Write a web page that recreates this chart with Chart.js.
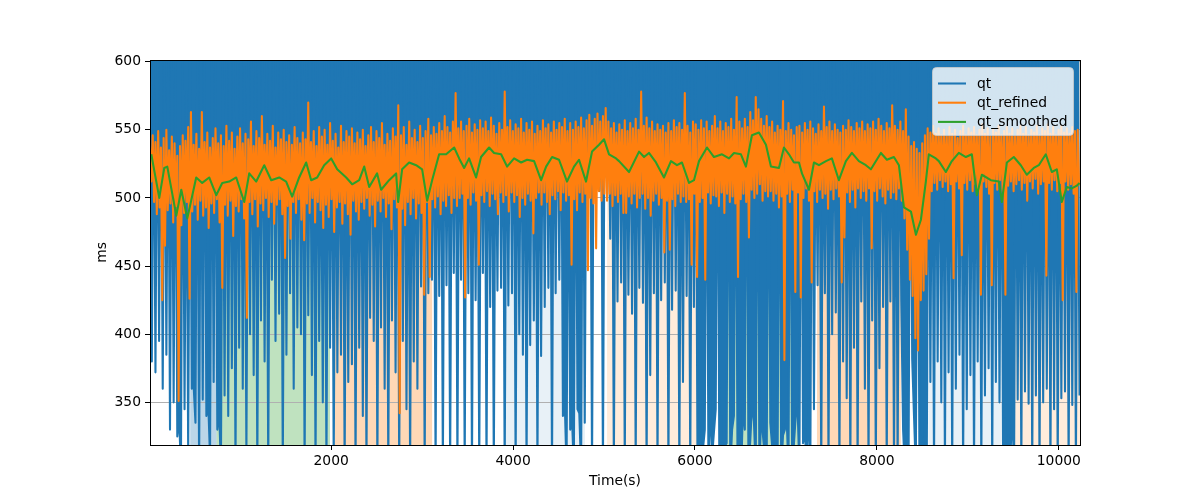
<!DOCTYPE html>
<html><head><meta charset="utf-8">
<script src="https://cdn.jsdelivr.net/npm/chart.js@4/dist/chart.umd.min.js"></script>
<style>html,body{margin:0;padding:0;background:#fff;}#wrap{width:1200px;height:500px;}</style>
</head><body><div id="wrap"><canvas id="c" width="1200" height="500"></canvas></div>
<script>
// ---- data ----
const xTickValues = [2000, 4000, 6000, 8000, 10000];
const yTickValues = [350, 400, 450, 500, 550, 600];
const timeStart = 8;
const qtInterval = 20;
const refinedInterval = 15;

const qt = [
612,380, 606,372, 615,395, 609,360, 618,385, 604,330, 611,350, 607,325, 340,300, 608,345,
578,310, 616,360, 362,335, 613,300, 610,352, 617,340, 350,310, 612,365, 609,330, 345,300,
604,355, 611,340, 618,375, 607,300, 613,390, 608,360, 596,310, 614,400, 605,370, 610,300,
616,410, 609,380, 604,300, 612,440, 607,395, 615,415, 610,300, 606,385, 617,430, 608,360,
613,405, 605,400, 611,300, 618,414, 607,370, 609,300, 614,395, 571,350, 606,300, 612,390,
610,300, 615,372, 604,385, 608,300, 588,365, 617,378, 611,300, 606,390, 587,340, 613,300,
609,412, 605,395, 614,300, 610,405, 616,360, 607,300, 612,410, 604,372, 618,300, 608,395,
613,345, 606,300, 611,380, 615,360, 609,435, 605,300, 617,430, 581,440, 610,300, 612,428,
607,300, 614,436, 604,300, 611,445, 616,300, 608,440, 613,300, 606,430, 618,300, 610,425,
605,300, 612,445, 609,300, 615,420, 607,300, 594,432, 611,434, 604,300, 614,421, 608,430,
617,300, 610,400, 606,385, 613,300, 592,392, 609,410, 590,300, 615,384, 605,420, 612,434,
608,300, 616,430, 607,440, 611,340, 350,300, 591,330, 338,300, 609,345, 342,300, 613,335,
610,512, 617,300, 605,518, 612,505, 608,300, 615,515, 582,470, 607,300, 611,424, 604,438,
614,300, 609,429, 588,415, 616,300, 606,434, 612,423, 608,300, 613,370, 605,430, 610,300,
618,425, 607,438, 611,300, 604,418, 615,432, 609,300, 590,365, 612,428, 606,300, 614,420,
608,300, 335,300, 316,330, 605,300, 352,310, 328,345, 611,300, 340,300, 318,320, 615,300,
330,340, 590,300, 325,300, 348,330, 617,300, 322,350, 336,300, 614,300, 342,325, 310,300,
592,335, 318,300, 344,300, 609,300, 326,330, 338,300, 612,300, 320,340, 346,300, 610,320,
330,300, 352,300, 618,345, 583,436, 607,300, 578,430, 613,300, 609,400, 605,416, 592,300,
614,380, 610,353, 606,300, 612,390, 617,300, 608,424, 611,360, 604,300, 615,410, 609,300,
577,375, 613,420, 607,300, 610,424, 616,300, 605,300, 612,424, 330,300, 318,300, 614,382,
340,300, 606,300, 325,310, 336,300, 617,365, 604,300, 613,380, 608,350, 610,300, 615,372,
607,300, 612,360, 605,385, 611,300, 590,345, 614,370, 609,300, 606,380, 616,300, 585,355,
610,375, 613,300, 604,365, 608,350, 612,300, 338,300, 326,310, 345,300, 611,352, 588,300,
615,358, 606,349, 609,300, 613,355, 605,300, 586,350, 612,360, 608,300, 616,345, 610,300,
585,353, 607,358, 614,300, 605,348, 611,300, 609,355
];

const qtRefined = [
538,512, 546,497, 541,488, 549,493, 537,425, 544,465, 550,491, 535,496, 545,482, 540,494,
531,351, 538,480, 546,489, 542,497, 552,426, 563,490, 539,495, 547,484, 536,498, 563,487,
541,493, 548,478, 537,496, 544,489, 551,499, 540,482, 546,434, 538,495, 553,487, 542,498,
548,472, 536,494, 545,490, 551,499, 540,485, 547,412, 543,497, 556,488, 538,499, 549,479,
544,496, 560,491, 539,500, 547,486, 542,497, 553,481, 537,495, 548,499, 543,488, 550,456,
541,494, 546,470, 539,497, 552,489, 544,499, 540,484, 548,469, 543,496, 570,489, 541,500,
549,482, 538,497, 552,491, 545,478, 550,495, 539,486, 555,499, 542,475, 547,493, 537,497,
553,481, 541,496, 549,488, 545,473, 551,498, 540,490, 548,484, 543,497, 550,492, 538,500,
546,487, 552,495, 541,479, 549,498, 544,490, 555,500, 539,486, 547,496, 542,477, 551,499,
545,493, 568,342, 546,492, 552,480, 539,497, 556,488, 544,500, 550,485, 541,496, 553,489,
544,429, 549,497, 558,442, 546,499, 552,493, 547,501, 555,488, 549,498, 560,494, 552,502,
548,489, 556,500, 577,494, 551,500, 556,503, 549,427, 553,500, 558,495, 548,504, 554,498,
550,451, 557,502, 551,497, 556,505, 549,494, 559,503, 553,499, 547,488, 555,504, 550,497,
578,502, 552,490, 557,504, 549,497, 554,502, 551,486, 558,500, 548,495, 555,503, 550,498,
556,474, 547,500, 553,504, 549,495, 557,504, 551,497, 554,488, 548,502, 556,499, 550,505,
555,491, 552,504, 558,498, 549,502, 555,451, 550,499, 556,491, 552,504, 559,497, 551,503,
557,447, 561,500, 553,496, 558,463, 562,505, 556,498, 560,503, 566,498, 556,503, 551,494,
555,502, 548,497, 554,503, 550,489, 557,489, 549,501, 555,496, 551,503, 558,493, 550,500,
578,503, 553,492, 559,500, 551,487, 556,498, 549,503, 554,495, 550,500, 553,460, 548,498,
555,462, 549,499, 557,494, 552,503, 555,497, 550,501, 577,497, 553,499, 548,451, 556,503,
554,442, 550,497, 557,500, 551,440, 556,504, 549,496, 553,502, 560,501, 551,494, 556,504,
549,489, 555,503, 552,497, 558,501, 550,496, 574,442, 556,499, 551,503, 558,497, 552,471,
563,506, 557,500, 574,503, 565,510, 558,498, 553,505, 560,501, 552,505, 556,498, 548,503,
553,493, 550,501, 571,381, 549,503, 555,497, 550,506, 546,431, 552,504, 553,427, 548,500,
555,507, 550,498, 556,438, 551,505, 547,497, 554,506, 549,500, 567,503, 552,492, 556,506,
549,499, 554,507, 550,501, 548,438, 553,471, 550,504, 557,497, 552,506, 549,493, 555,507,
551,500, 556,505, 549,498, 554,507, 551,463, 556,505, 550,498, 558,507, 553,501, 549,496,
555,506, 551,500, 568,504, 553,499, 550,507, 556,498, 549,485, 565,462, 545,440, 538,428,
541,397, 536,388, 533,425, 540,432, 546,444, 551,470, 548,505, 553,511, 547,506, 551,513,
546,508, 550,512, 545,505, 552,510, 547,441, 550,512, 544,507, 549,458, 553,511, 546,506,
551,513, 548,505, 552,510, 546,507, 550,429, 554,512, 547,508, 551,503, 545,436, 550,511,
548,506, 553,513, 546,504, 549,429, 552,509, 547,512, 551,505, 545,510, 550,513, 553,506,
547,511, 552,498, 546,512, 550,507, 548,514, 553,503, 546,510, 551,512, 549,443, 554,511,
547,506, 552,513, 546,505, 550,511, 553,425, 548,512, 551,506, 547,510, 552,503, 549,431,
550,509
];

const smoothedTimes = [
22,110,165,198,297,352,418,516,582,659,736,802,879,956,1044,1099,1176,1264,1341,1429,1505,1571,1648,
1725,1780,1846,1923,2000,2066,2165,2231,2308,2363,2418,2505,2549,2637,2714,2736,2780,2857,2934,3000,3055,3110,3187,3264,3352,
3407,3462,3516,3593,3648,3736,3791,3868,3934,4011,4088,4154,4231,4308,4363,4429,4505,4593,4670,4725,4802,4868,4945,5000,5055,5132,
5165,5275,5385,5440,5494,5571,5659,5736,5802,5857,5934,5989,6044,6132,6209,6297,6374,6429,6505,6560,6626,6703,6780,6835,6923,
6978,7033,7088,7143,7176,7253,7308,7363,7440,7505,7582,7659,7725,7802,7879,7934,8044,8110,8187,8242,8297,8374,8429,8484,8538,8571,8648,8681,
8758,8824,8901,8978,9044,9099,9154,9253,9341,9374,9429,9505,9582,9648,9725,9780,9857,9923,9978,10033,10088,10143,10198,10228
];
const smoothedValues = [
532,500,522,523,487,506,485,515,511,515,502,511,512,515,497,518,512,524,513,515,512,501,515,
526,513,515,524,529,521,515,510,513,523,508,518,506,513,518,497,521,526,524,521,498,513,532,532,537,
529,522,529,515,530,537,533,532,523,529,526,528,527,513,523,530,528,512,523,528,512,534,539,543,532,529,
527,519,534,530,533,526,515,527,524,526,511,513,527,537,530,532,529,533,532,523,546,548,539,523,522,
537,532,526,526,518,506,526,524,527,529,513,527,533,527,524,521,533,528,530,524,493,490,473,484,512,532,529,527,
519,527,533,530,532,502,517,513,512,497,526,530,524,517,522,524,532,519,521,497,508,507,509,511
];

const spanStarts = [450, 740, 2042, 3889, 5033, 6270, 6340, 7341, 8566, 9497];
const spanEnds   = [740, 1987, 3110, 4791, 6022, 6340, 7150, 8262, 9372, 10233];
const spanColors = ['rgba(31,119,180,0.3)','rgba(44,160,44,0.3)','rgba(255,127,14,0.3)','rgba(31,119,180,0.1)',
  'rgba(255,127,14,0.15)','rgba(31,119,180,0.3)','rgba(44,160,44,0.3)','rgba(255,127,14,0.3)',
  'rgba(31,119,180,0.1)','rgba(255,127,14,0.15)'];

const xMin = 8, xMax = 10233, yMin = 318.7, yMax = 601.2;

// ---- chart ----
const FONT = {family: "'DejaVu Sans'", size: 13.89};

const spanPlugin = {
  id: 'spans',
  beforeDraw(chart) {
    const {ctx, chartArea: a, scales: {x}} = chart;
    ctx.save();
    ctx.beginPath(); ctx.rect(a.left, a.top, a.right - a.left, a.bottom - a.top); ctx.clip();
    spanStarts.forEach((s, i) => {
      const x0 = x.getPixelForValue(s), x1 = x.getPixelForValue(spanEnds[i]);
      ctx.fillStyle = spanColors[i];
      ctx.fillRect(x0, a.top, x1 - x0, a.bottom - a.top);
    });
    ctx.restore();
  }
};

const framePlugin = {
  id: 'frame',
  afterDatasetsDraw(chart) {
    const {ctx, chartArea: a} = chart;
    ctx.save();
    ctx.strokeStyle = '#000'; ctx.lineWidth = 1;
    ctx.strokeRect(a.left + 0.5, a.top + 0.5, a.right - a.left, a.bottom - a.top);
    ctx.restore();
  }
};

const legendPlugin = {
  id: 'mplLegend',
  afterDraw(chart) {
    const ctx = chart.ctx;
    ctx.save();
    const x0 = 932.5, y0 = 67.5, w = 141, h = 68, r = 4;
    ctx.beginPath();
    ctx.moveTo(x0 + r, y0); ctx.lineTo(x0 + w - r, y0); ctx.arcTo(x0 + w, y0, x0 + w, y0 + r, r);
    ctx.lineTo(x0 + w, y0 + h - r); ctx.arcTo(x0 + w, y0 + h, x0 + w - r, y0 + h, r);
    ctx.lineTo(x0 + r, y0 + h); ctx.arcTo(x0, y0 + h, x0, y0 + h - r, r);
    ctx.lineTo(x0, y0 + r); ctx.arcTo(x0, y0, x0 + r, y0, r); ctx.closePath();
    ctx.fillStyle = 'rgba(255,255,255,0.8)'; ctx.fill();
    ctx.strokeStyle = 'rgba(204,204,204,0.8)'; ctx.lineWidth = 1; ctx.stroke();
    chart.data.datasets.forEach((ds, i) => {
      const y = 83.5 + i * 19.2;
      ctx.beginPath(); ctx.moveTo(938, y); ctx.lineTo(966, y);
      ctx.strokeStyle = ds.borderColor; ctx.lineWidth = 2.08; ctx.lineCap = 'butt'; ctx.stroke();
      ctx.fillStyle = '#000'; ctx.font = "13.89px 'DejaVu Sans'"; ctx.textBaseline = 'alphabetic'; ctx.textAlign = 'left';
      ctx.fillText(ds.label, 977, y + 4);
    });
    ctx.restore();
  }
};

const toPts = (arr, start, step) => arr.map((v, i) => ({x: start + i * step, y: v}));

new Chart(document.getElementById('c'), {
  type: 'line',
  data: {
    datasets: [
      {label: 'qt', data: toPts(qt, timeStart, qtInterval), borderColor: '#1f77b4',
       backgroundColor: '#1f77b4', fill: 'end', order: 3},
      {label: 'qt_refined', data: toPts(qtRefined, timeStart, refinedInterval), borderColor: '#ff7f0e', fill: false, order: 2},
      {label: 'qt_smoothed', data: smoothedTimes.map((t, i) => ({x: t, y: smoothedValues[i]})), borderColor: '#2ca02c', fill: false, order: 1}
    ]
  },
  options: {
    responsive: false, animation: false, devicePixelRatio: 1,
    layout: {padding: {left: 94, right: 120, top: 60, bottom: 0}},
    plugins: {legend: {display: false}, tooltip: {enabled: false}},
    datasets: {line: {clip: 0, borderWidth: 2.08, pointRadius: 0, tension: 0, borderJoinStyle: 'round'}},
    scales: {
      x: {
        type: 'linear', min: xMin, max: xMax,
        afterBuildTicks: s => { s.ticks = xTickValues.map(v => ({value: v})); },
        afterFit: s => { s.height = 55; },
        grid: {drawOnChartArea: false, tickLength: 5, tickColor: '#000', tickWidth: 1},
        border: {display: false},
        ticks: {color: '#000', font: FONT, padding: 3, maxRotation: 0, autoSkip: false, callback: v => String(v)},
        title: {display: true, text: 'Time(s)', color: '#000', font: FONT, padding: {top: 0, bottom: 10}}
      },
      y: {
        type: 'linear', min: yMin, max: yMax,
        afterBuildTicks: s => { s.ticks = yTickValues.map(v => ({value: v})); },
        afterFit: s => { s.width = 56; },
        grid: {color: '#b0b0b0', lineWidth: 1, tickLength: 5, tickColor: '#000', tickWidth: 1},
        border: {display: false},
        ticks: {color: '#000', font: FONT, padding: 4, autoSkip: false, callback: v => String(v)},
        title: {display: true, text: 'ms', color: '#000', font: FONT, padding: {top: 0, bottom: 0}}
      }
    }
  },
  plugins: [spanPlugin, framePlugin, legendPlugin]
});
</script>
</body></html>
